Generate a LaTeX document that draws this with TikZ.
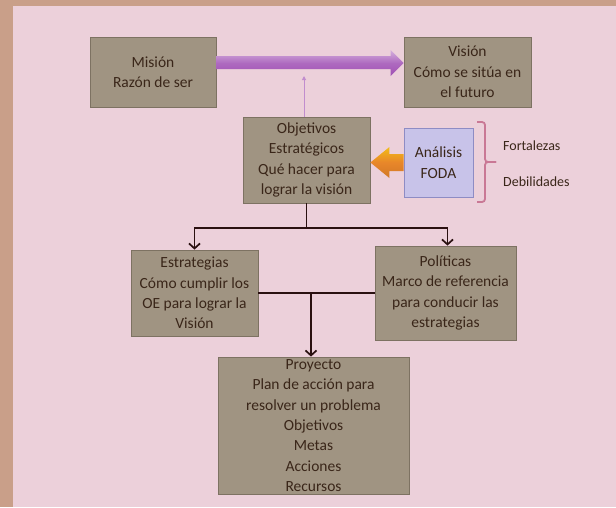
\documentclass[tikz,border=0pt]{standalone}
\usepackage{fontspec}
\setmainfont{Carlito}
\usepackage{tikz}
\usetikzlibrary{arrows.meta}
\usetikzlibrary{calc}
\definecolor{fondo}{HTML}{ECD0DA}
\definecolor{marco}{HTML}{C99F89}
\definecolor{caja}{HTML}{A09482}
\definecolor{bordecaja}{HTML}{7D7262}
\definecolor{texto}{HTML}{3A2619}
\definecolor{lila}{HTML}{C8C3E9}
\definecolor{bordelila}{HTML}{8E8CC4}
\definecolor{morado}{HTML}{A050B4}
\definecolor{naranja}{HTML}{E8862A}
\definecolor{rosa}{HTML}{C97895}
\definecolor{flecha}{HTML}{2A1010}
\tikzstyle{box}=[rectangle,fill=caja,draw=bordecaja,line width=0.8pt,text=texto,align=center,inner sep=0pt,font=\fontsize{15.5}{20.4}\selectfont]
\tikzstyle{fodabox}=[box,fill=lila,draw=bordelila]
\tikzstyle{edge} = [draw,line width=1.7pt,flecha,-{Straight Barb[length=5pt,width=11pt]}]
\tikzstyle{plainedge} = [draw,line width=1.7pt,flecha]
\tikzstyle{thinarrow} = [draw,line width=1pt,morado!65,-{Triangle[length=4pt,width=4pt]}]
\tikzstyle{sidetext} = [anchor=west,inner sep=0pt,text=texto,font=\fontsize{14}{16}\selectfont]
\tikzstyle{llave} = [draw,line width=1.8pt,rosa,rounded corners=3pt]

\begin{document}
\begin{tikzpicture}[x=1pt,y=-1pt]

    % marco y fondo
    \fill[marco] (0,0) rectangle (616,507);
    \fill[fondo] (13,6) rectangle (616,507);
    \useasboundingbox (0,0) rectangle (616,507);

    \foreach \pos/ \name/ \w/ \h/ \txt in {{(153,72)/mision/126/70/{Misión\\Razón de ser}},
        {(467.5,72)/vision/127/70/{Visión\\Cómo se sitúa en\\el futuro}},
        {(306.5,160)/objetivos/127/86/{Objetivos\\Estratégicos\\Qué hacer para\\lograr la visión}},
        {(194.5,293)/estrategias/127/86/{Estrategias\\Cómo cumplir los\\OE para lograr la\\Visión}},
        {(445.5,293)/politicas/141/94/{Políticas\\Marco de referencia\\para conducir las\\estrategias}},
        {(313.5,425.5)/proyecto/191/137/{Proyecto\\Plan de acción para\\resolver un problema\\Objetivos\\Metas\\Acciones\\Recursos}}}
        \node[box,minimum width=\w,minimum height=\h] (\name) at \pos {\txt};

    \node[fodabox,minimum width=69,minimum height=69] (foda) at (438.5,162.5) {Análisis\\FODA};

    \node[sidetext] (fortalezas) at (503,146) {Fortalezas};
    \node[sidetext] (debilidades) at (503,182) {Debilidades};

    % llave
    \draw[llave] (477,122) -| (485,162) -- (496,162);
    \draw[llave] (496,162) -- (485,162) |- (477,202);

    % flecha gruesa mision -> vision
    \shade[top color=morado!45, bottom color=morado, middle color=morado!85]
        ([yshift=16pt]mision.east) -- ([xshift=-13pt,yshift=16pt]vision.west)
        -- ([xshift=-13pt,yshift=22pt]vision.west) -- ([yshift=9pt]vision.west)
        -- ([xshift=-13pt,yshift=-4pt]vision.west) -- ([xshift=-13pt,yshift=3pt]vision.west)
        -- ([yshift=3pt]mision.east) -- cycle;

    % flecha naranja foda -> objetivos
    \coordinate (punta) at (objetivos.east |- foda.west);
    \shade[top color=naranja!55!yellow, bottom color=naranja!90!black, middle color=naranja]
        ([yshift=8.5pt]foda.west) -- ([xshift=19pt,yshift=8.5pt]punta)
        -- ([xshift=19pt,yshift=15.5pt]punta) -- (punta)
        -- ([xshift=19pt,yshift=-15.5pt]punta) -- ([xshift=19pt,yshift=-8.5pt]punta)
        -- ([yshift=-8.5pt]foda.west) -- cycle;

    % flecha fina hacia arriba
    \coordinate (tope) at (304,76);
    \draw[thinarrow] (tope |- objetivos.north) -- (tope);

    % conectores
    \coordinate (split) at (306.5,228);
    \draw[plainedge] (objetivos) -- (split);
    \draw[edge] (split) -| (estrategias);
    \draw[edge] (split) -| (politicas.north -| 447.5,0);
    \draw[plainedge] (estrategias) -- (politicas);
    \coordinate (union) at (311,293);
    \draw[edge] (union) -- (union |- proyecto.north);

\end{tikzpicture}
\end{document}
